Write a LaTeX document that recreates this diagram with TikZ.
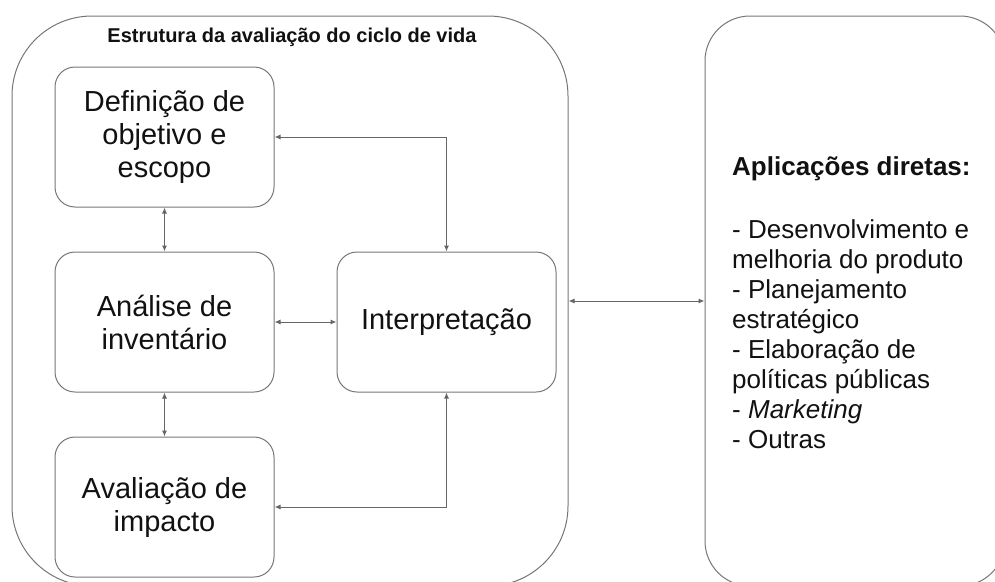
\documentclass[tikz,border=0pt]{standalone}
\usepackage{fontspec}
\setmainfont{Liberation Sans}
\usetikzlibrary{arrows.meta}
\definecolor{edgegray}{HTML}{767676}
\definecolor{arrowgray}{HTML}{666666}
\definecolor{textblack}{HTML}{111111}
\begin{document}
\begin{tikzpicture}[x=1pt,y=-1pt,
  box/.style={draw=edgegray, line width=1pt, rounded corners=20pt, minimum width=219pt, minimum height=140pt, align=center, text=textblack, font=\fontsize{29}{33}\selectfont, inner sep=0pt},
  outerbox/.style={draw=edgegray, line width=1pt, inner sep=0pt},
  link/.style={draw=arrowgray, line width=1pt, {Latex[length=6pt,width=5pt]}-{Latex[length=6pt,width=5pt]}},
  item/.style={anchor=base west, inner sep=0pt, text=textblack, font=\fontsize{26}{30}\selectfont}]
\useasboundingbox (0,0) rectangle (995,581);
\clip (0,0) rectangle (995,581);
% outer frames
\node[outerbox, rounded corners=80pt, minimum width=556pt, minimum height=570pt] (big) at (290,301) {};
\node[outerbox, rounded corners=45pt, minimum width=300pt, minimum height=570pt] (right) at (855,301) {};
% title
\node[anchor=base, inner sep=0pt, text=textblack, font=\fontsize{20}{24}\selectfont\bfseries] (title) at (292,42) {Estrutura da avaliação do ciclo de vida};
% inner boxes
\node[box] (b1) at (164.5,137) {Definição de\\objetivo e\\escopo};
\node[box] (b2) at (164.5,322) {Análise de\\inventário};
\node[box] (b3) at (164.5,507) {Avaliação de\\impacto};
\node[box] (interp) at (446.5,322) {Interpretação};
% connectors
\draw[link] (b1) -- (b2);
\draw[link] (b2) -- (b3);
\draw[link] (b2) -- (interp);
\draw[link] (b1.east) -| (interp.north);
\draw[link] (b3.east) -| (interp.south);
\draw[link] (big.east) -- (right.west);
% right text
\node[item, font=\fontsize{26}{30}\selectfont\bfseries] (h) at (732,175) {Aplicações diretas:};
\node[item] (l1) at (732,238) {- Desenvolvimento e};
\node[item] (l2) at (732,268) {melhoria do produto};
\node[item] (l3) at (732,298) {- Planejamento};
\node[item] (l4) at (732,328) {estratégico};
\node[item] (l5) at (732,358) {- Elaboração de};
\node[item] (l6) at (732,388) {políticas públicas};
\node[item] (l7) at (732,418) {- \textit{Marketing}};
\node[item] (l8) at (732,448) {- Outras};
\end{tikzpicture}
\end{document}
